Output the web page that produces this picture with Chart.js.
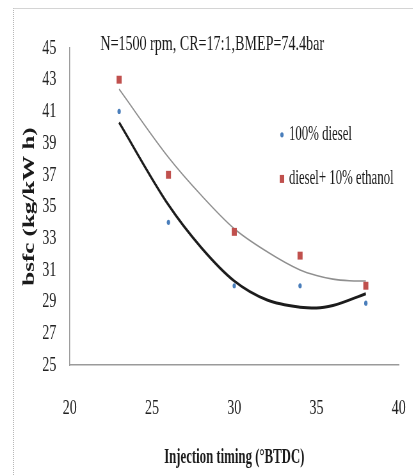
<!DOCTYPE html>
<html>
<head>
<meta charset="utf-8">
<script src="https://cdn.jsdelivr.net/npm/chart.js@4.4.0/dist/chart.umd.min.js"></script>
<style>
  html, body { margin: 0; padding: 0; background: #fff; overflow: hidden; }
  #wrap { position: relative; width: 413px; height: 475px; overflow: hidden; }
  #frame { position: absolute; left: 13px; top: 8px; width: 420px; height: 480px; border-left: 1px dotted #b8b8b8; border-top: 1px solid #d4d4d4; }
  /* the chart is drawn wide and squeezed horizontally */
  #bsfc { position: absolute; left: 0; top: 0; transform: scaleX(0.64); transform-origin: 0 0; }
</style>
</head>
<body>
<div id="wrap"><div id="frame"></div><canvas id="bsfc" width="645" height="475"></canvas></div>
<script>
const chartTitle = 'N=1500 rpm, CR=17:1,BMEP=74.4bar';
const seriesNames = ['100% diesel', 'diesel+ 10% ethanol'];

// measured points
const timing = [23, 26, 30, 34, 38];
const diesel = [41, 34, 30, 30, 28.9];
const ethanol = [43, 37, 33.4, 31.9, 30];

// trend curves
const dieselFitX = [23, 26, 28, 30, 32, 34, 35, 36, 38];
const dieselFit = [40.3, 35.1, 32.4, 30.3, 29.1, 28.65, 28.6, 28.75, 29.5];
const ethanolFitX = [23, 26, 28, 30, 32, 34, 35, 36, 37, 38];
const ethanolFit = [42.4, 38.1, 35.7, 33.6, 32.15, 31.0, 30.65, 30.42, 30.32, 30.3];

const xTicks = [20, 25, 30, 35, 40];
const yTicks = [25, 27, 29, 31, 33, 35, 37, 39, 41, 43, 45];

const serif = '"Liberation Serif", "Times New Roman", serif';
const blue = '#4a7ebb';
const red = '#c0504d';

const toXY = (xs, ys) => xs.map((x, i) => ({ x: x, y: ys[i] }));

// title sits level with the top of the y axis
const headerPlugin = {
    id: 'header',
    afterDraw(chart) {
        const ctx = chart.ctx;
        ctx.save();
        ctx.font = '22px ' + serif;
        ctx.fillStyle = '#1a1a1a';
        ctx.textAlign = 'center';
        ctx.textBaseline = 'middle';
        ctx.fillText(chartTitle, chart.width / 2 + 9, chart.chartArea.top - 4);
        ctx.restore();
    }
};

// legend inside the plot, right half
const insideLegend = {
    id: 'insideLegend',
    afterDraw(chart) {
        const { ctx, chartArea } = chart;
        const w = chartArea.right - chartArea.left;
        const h = chartArea.bottom - chartArea.top;
        const mx = chartArea.left + w * 0.645;
        const rows = [chartArea.top + h * 0.274, chartArea.top + h * 0.413];
        ctx.save();
        ctx.font = '20px ' + serif;
        ctx.textBaseline = 'middle';
        ctx.textAlign = 'left';

        ctx.fillStyle = blue;
        ctx.beginPath();
        ctx.arc(mx, rows[0], 2.6, 0, Math.PI * 2);
        ctx.fill();

        ctx.fillStyle = red;
        ctx.fillRect(mx - 3.5, rows[1] - 4, 7, 8);

        ctx.fillStyle = '#1a1a1a';
        ctx.fillText(seriesNames[0], mx + 11, rows[0]);
        ctx.fillText(seriesNames[1], mx + 11, rows[1]);
        ctx.restore();
    }
};

const ctx = document.getElementById('bsfc').getContext('2d');

const chart = new Chart(ctx, {
    type: 'scatter',
    data: {
        datasets: [
            {
                label: seriesNames[0],
                data: toXY(timing, diesel),
                pointStyle: 'circle',
                pointRadius: 2.6,
                backgroundColor: blue,
                borderColor: blue,
                borderWidth: 0
            },
            {
                label: seriesNames[1],
                data: toXY(timing, ethanol),
                pointStyle: 'rect',
                pointRadius: 5.6,
                backgroundColor: red,
                borderColor: red,
                borderWidth: 0
            },
            {
                type: 'line',
                label: 'diesel trend',
                data: toXY(dieselFitX, dieselFit),
                showLine: true,
                borderColor: '#1c1c1c',
                borderWidth: 3,
                pointRadius: 0,
                fill: false,
                cubicInterpolationMode: 'monotone'
            },
            {
                type: 'line',
                label: 'ethanol trend',
                data: toXY(ethanolFitX, ethanolFit),
                showLine: true,
                borderColor: '#8f8f8f',
                borderWidth: 1.6,
                pointRadius: 0,
                fill: false,
                cubicInterpolationMode: 'monotone'
            }
        ]
    },
    options: {
        responsive: false,
        animation: false,
        layout: {
            padding: { top: 48, right: 22, left: 0, bottom: 0 }
        },
        plugins: {
            legend: { display: false },
            tooltip: { enabled: false }
        },
        scales: {
            x: {
                type: 'linear',
                min: 20,
                max: 40,
                afterBuildTicks: scale => { scale.ticks = xTicks.map(v => ({ value: v })); },
                afterFit: scale => {
                    scale.height = 110;
                    scale.paddingLeft = 0;
                    scale.paddingRight = 0;
                },
                grid: { display: false, drawTicks: false },
                border: { display: true, color: '#9a9a9a', width: 1.5 },
                ticks: {
                    padding: 30,
                    color: '#222',
                    font: { family: serif, size: 22 }
                },
                title: {
                    display: true,
                    text: 'Injection timing (°BTDC)',
                    color: '#1a1a1a',
                    font: { family: serif, size: 20, weight: 'bold' },
                    padding: { top: 0, bottom: 5 }
                }
            },
            y: {
                min: 25,
                max: 45,
                afterBuildTicks: scale => { scale.ticks = yTicks.map(v => ({ value: v })); },
                afterFit: scale => { scale.width = 109; },
                grid: { display: false, drawTicks: false },
                border: { display: true, color: '#9a9a9a', width: 1.5 },
                ticks: {
                    padding: 21,
                    color: '#222',
                    font: { family: serif, size: 22 }
                },
                title: {
                    display: true,
                    text: 'bsfc (kg/kW h)',
                    color: '#1a1a1a',
                    font: { family: serif, size: 25, weight: 'bold' },
                    padding: { top: 32, bottom: 0 }
                }
            }
        }
    },
    plugins: [headerPlugin, insideLegend]
});
</script>
</body>
</html>
